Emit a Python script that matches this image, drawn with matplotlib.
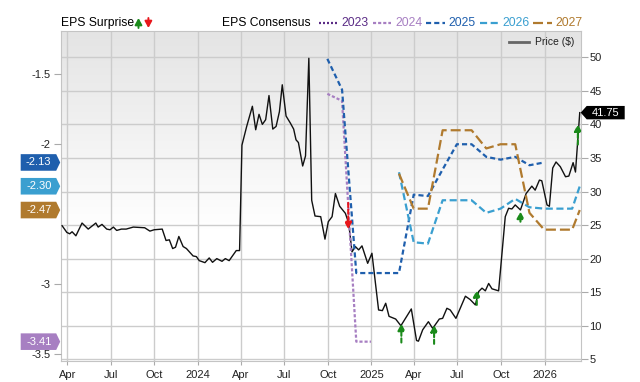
import datetime as dt

import matplotlib
matplotlib.use('Agg')
import matplotlib.dates as mdates
import matplotlib.pyplot as plt
import matplotlib.transforms as mtransforms
import numpy as np
from matplotlib.colors import LinearSegmentedColormap
from matplotlib.lines import Line2D
from matplotlib.patches import FancyArrowPatch, Polygon

plt.rcParams['font.family'] = ['Liberation Sans', 'DejaVu Sans']

# price ($), right axis
price_dates = [
    '2023-03-21', '2023-03-31', '2023-04-06', '2023-04-11', '2023-04-19', '2023-05-02', '2023-05-15', '2023-05-31',
    '2023-06-05', '2023-06-13', '2023-06-23', '2023-06-30', '2023-07-07', '2023-07-14', '2023-07-24', '2023-08-03',
    '2023-08-18', '2023-09-11', '2023-09-22', '2023-10-01', '2023-10-18', '2023-10-26', '2023-11-02', '2023-11-09',
    '2023-11-15', '2023-11-22', '2023-12-01', '2023-12-08', '2023-12-22', '2023-12-29', '2024-01-04', '2024-01-16',
    '2024-01-25', '2024-02-01', '2024-02-10', '2024-02-21', '2024-02-28', '2024-03-07', '2024-03-22', '2024-03-29',
    '2024-04-03', '2024-04-13', '2024-04-25', '2024-05-02', '2024-05-09', '2024-05-16', '2024-05-23', '2024-05-30',
    '2024-06-07', '2024-06-14', '2024-06-21', '2024-06-27', '2024-07-05', '2024-07-14', '2024-07-21', '2024-07-26',
    '2024-07-31', '2024-08-09', '2024-08-15', '2024-08-22', '2024-08-28', '2024-09-04', '2024-09-16', '2024-09-25',
    '2024-10-02', '2024-10-10', '2024-10-17', '2024-10-26', '2024-11-07', '2024-11-14', '2024-11-21', '2024-11-28',
    '2024-12-05', '2024-12-12', '2024-12-24', '2025-01-02', '2025-01-16', '2025-01-24', '2025-01-31', '2025-02-07',
    '2025-02-21', '2025-03-04', '2025-03-26', '2025-04-06', '2025-04-10', '2025-04-19', '2025-05-01', '2025-05-10',
    '2025-05-24', '2025-05-31', '2025-06-09', '2025-06-16', '2025-06-28', '2025-07-18', '2025-07-28', '2025-08-08',
    '2025-08-15', '2025-08-22', '2025-08-29', '2025-09-05', '2025-09-12', '2025-09-26', '2025-10-10', '2025-10-17',
    '2025-10-24', '2025-10-31', '2025-11-11', '2025-11-23', '2025-12-05', '2025-12-12', '2025-12-21', '2025-12-26',
    '2026-01-06', '2026-01-11', '2026-01-18', '2026-01-25', '2026-02-03', '2026-02-14', '2026-02-21', '2026-03-02',
    '2026-03-07', '2026-03-16',
]
price_values = [
    24.9, 23.9, 23.7, 24.0, 23.4, 25.3, 24.4, 25.3,
    24.7, 25.1, 24.4, 24.3, 24.7, 24.2, 24.4, 24.4,
    24.7, 24.6, 24.1, 24.3, 24.4, 22.7, 22.8, 21.5,
    21.7, 23.3, 21.8, 21.5, 20.4, 20.3, 19.7, 19.4,
    20.1, 19.45, 20.0, 19.6, 20.0, 19.7, 21.2, 21.2,
    36.9, 39.7, 42.7, 39.2, 41.5, 40.0, 40.7, 44.3,
    39.3, 39.7, 41.9, 45.9, 41.25, 40.2, 39.3, 37.7,
    37.3, 33.8, 35.3, 49.85, 28.7, 26.35, 26.25, 22.9,
    25.5, 26.25, 29.7, 27.8, 26.75, 25.3, 21.0, 21.8,
    21.3, 21.9, 19.3, 20.8, 12.35, 12.25, 13.35, 11.4,
    11.0, 10.0, 12.5, 7.8, 7.7, 9.4, 10.6, 9.6,
    11.0, 11.1, 12.6, 12.35, 11.1, 14.4, 13.9, 13.1,
    15.1, 15.6, 15.2, 16.3, 15.5, 15.2, 26.25, 27.5,
    27.4, 28.0, 27.25, 29.7, 30.8, 30.2, 31.7, 31.6,
    28.0, 27.8, 33.5, 34.4, 33.7, 32.2, 32.3, 34.3,
    32.9, 41.75,
]

# EPS consensus, left axis
cons_2024_dates = ['2024-09-30', '2024-10-31', '2024-11-30', '2024-12-31']
cons_2024 = [-1.64, -1.69, -3.41, -3.41]
cons_2025_dates = ['2024-09-30', '2024-10-31', '2024-11-30', '2024-12-31', '2025-01-31', '2025-02-28',
                   '2025-03-31', '2025-04-30', '2025-05-31', '2025-06-30', '2025-07-31', '2025-08-31',
                   '2025-09-30', '2025-10-31', '2025-11-30', '2025-12-31']
cons_2025 = [-1.39, -1.61, -2.92, -2.92, -2.92, -2.92, -2.36, -2.37, -2.18, -2.0, -2.0, -2.09,
             -2.11, -2.09, -2.15, -2.13]
cons_later_dates = ['2025-02-28', '2025-03-31', '2025-04-30', '2025-05-31', '2025-06-30', '2025-07-31',
                    '2025-08-31', '2025-09-30', '2025-10-31', '2025-11-30', '2025-12-31', '2026-01-31',
                    '2026-02-28', '2026-03-16']
cons_2026 = [-2.20, -2.70, -2.71, -2.40, -2.40, -2.40, -2.49, -2.46, -2.39, -2.45, -2.46, -2.46, -2.46, -2.30]
cons_2027 = [-2.21, -2.46, -2.46, -1.90, -1.90, -1.90, -2.03, -2.00, -2.00, -2.49, -2.61, -2.61, -2.61, -2.47]

years = ['2023', '2024', '2025', '2026', '2027']
year_colors = ['#5b2c86', '#a77fc2', '#1f5fad', '#3a9fd0', '#b07a2e']
year_dashes = [(0, (0.9, 0.9)), (0, (1.4, 0.9)), (0, (2.3, 1.4)), (0, (3.2, 1.6)), (0, (4.5, 1.8))]

# EPS surprise arrows: date, price at the head, price at the tail, beat?
surprise_dates = ['2024-11-13', '2025-03-05', '2025-05-13', '2025-08-11', '2025-11-11', '2026-03-12']
surprise_head = [24.4, 10.3, 10.1, 15.3, 27.0, 40.0]
surprise_tail = [28.3, 7.5, 7.3, 13.1, 25.5, 37.0]
surprise_beat = [False, True, True, True, True, True]

eps_ticks = [-1.5, -2, -3, -3.5]
eps_tick_labels = ['-1.5', '-2', '-3', '-3.5']
price_ticks = [5, 10, 15, 20, 25, 30, 35, 40, 45, 50]

W, H = 640, 382
GREEN, RED = '#1a8a1a', '#e8161b'


def to_dates(values):
    return [dt.datetime.strptime(v, '%Y-%m-%d') for v in values]


def quarter_label(x, pos=None):
    d = mdates.num2date(x)
    return str(d.year) if d.month == 1 else d.strftime('%b')


def main():
    fig = plt.figure(figsize=(W / 100, H / 100), dpi=100)
    left, right, top, bottom = 60.7, 580.7, 30.7, 360.7
    ax = fig.add_axes([left / W, 1 - bottom / H, (right - left) / W, (bottom - top) / H])
    ax2 = ax.twinx()

    # background gradient
    cmap = LinearSegmentedColormap.from_list('bg', [(0, '#e4e4e4'), (0.6, '#ffffff'), (1, '#ffffff')])
    ax.imshow(np.linspace(0, 1, 256).reshape(-1, 1), extent=[0, 1, 0, 1], transform=ax.transAxes,
              cmap=cmap, aspect='auto', zorder=-1, interpolation='bilinear')

    ax.plot(to_dates(price_dates), price_values, color='#111111', lw=1.0, zorder=3)

    ax2.plot(to_dates(cons_2024_dates), cons_2024, color=year_colors[1], ls=year_dashes[1], lw=1.6)
    ax2.plot(to_dates(cons_2025_dates), cons_2025, color=year_colors[2], ls=year_dashes[2], lw=1.6)
    ax2.plot(to_dates(cons_later_dates), cons_2026, color=year_colors[3], ls=year_dashes[3], lw=1.6)
    ax2.plot(to_dates(cons_later_dates), cons_2027, color=year_colors[4], ls=year_dashes[4], lw=1.6)

    for d, head, tail, beat in zip(mdates.date2num(to_dates(surprise_dates)), surprise_head, surprise_tail,
                                   surprise_beat):
        ax2.annotate('', xy=(d, head), xytext=(d, tail), xycoords=ax.transData, textcoords=ax.transData,
                     arrowprops=dict(arrowstyle='-|>,head_length=0.55,head_width=0.3',
                                     color=GREEN if beat else RED, lw=1.5,
                                     linestyle=(0, (2, 1.2)), shrinkA=0, shrinkB=0, mutation_scale=7),
                     zorder=6)

    ax.set_xlim(dt.datetime(2023, 3, 18), dt.datetime(2026, 3, 18))
    ax.set_ylim(4.79, 53.96)
    ax2.set_ylim(-3.546, -1.189)

    ax.xaxis.set_major_locator(mdates.MonthLocator(bymonth=[1, 4, 7, 10]))
    ax.xaxis.set_major_formatter(plt.FuncFormatter(quarter_label))
    ax.set_yticks(price_ticks)
    ax2.set_yticks(eps_ticks)
    ax2.set_yticklabels(eps_tick_labels)

    ax.yaxis.tick_right()
    ax2.yaxis.tick_left()
    ax.tick_params(axis='y', length=4.8, pad=1.5, color='#aaaaaa', labelsize=8, labelcolor='#222222')
    ax.tick_params(axis='x', length=3, pad=4, color='#aaaaaa', labelsize=8, labelcolor='#222222')
    ax2.tick_params(axis='y', length=4.8, pad=2.4, color='#aaaaaa', labelsize=8, labelcolor='#222222')

    ax.set_axisbelow(True)
    ax.grid(True, color='#cccccc', lw=1.0)
    for s in ax.spines.values():
        s.set_color('#c4c4c4')
    for s in ax2.spines.values():
        s.set_visible(False)

    # left value tags
    tags = [(cons_2025[-1], year_colors[2]), (cons_2026[-1], year_colors[3]),
            (cons_2027[-1], year_colors[4]), (cons_2024[-1], year_colors[1])]
    for val, c in tags:
        tr = mtransforms.Affine2D() + mtransforms.ScaledTranslation(0, val, ax2.get_yaxis_transform())
        fig.add_artist(Polygon([(-40, -8.3), (-4.5, -8.3), (-0.5, 0), (-4.5, 8.3), (-40, 8.3)],
                               closed=True, transform=tr, facecolor=c, edgecolor='none', zorder=5))
        fig.text(-22, 0, f'{val:.2f}', transform=tr, ha='center', va='center', color='white',
                 fontsize=8, zorder=6)

    # right price tag
    last = price_values[-1]
    tr = mtransforms.Affine2D() + mtransforms.ScaledTranslation(1, last, ax.get_yaxis_transform())
    fig.add_artist(Polygon([(0, 0), (6, 6.7), (44, 6.7), (44, -6.7), (6, -6.7)], closed=True,
                           transform=tr, facecolor='black', edgecolor='none', zorder=5))
    fig.text(25, 0, f'{last:.2f}', transform=tr, ha='center', va='center', color='white', fontsize=8, zorder=6)

    # top legend
    ly = 1 - 23.3 / H
    fig.text(left / W, ly, 'EPS Surprise', ha='left', va='center', fontsize=8.7)
    for xp, c, up in [(138.5, GREEN, True), (148.4, RED, False)]:
        a, b = (H - 28, H - 18) if up else (H - 18, H - 28)
        fig.add_artist(FancyArrowPatch(
            (xp, a), (xp, b), transform=None, arrowstyle='-|>,head_length=0.55,head_width=0.3',
            color=c, lw=1.4, mutation_scale=7, shrinkA=0, shrinkB=0))
    fig.text(222.5 / W, ly, 'EPS Consensus', ha='left', va='center', fontsize=8.7)
    xs = 319.3
    for name, c, ls in zip(years, year_colors, year_dashes):
        fig.add_artist(Line2D([xs / W, (xs + 18.5) / W], [ly, ly], color=c, ls=ls, lw=1.6))
        fig.text((xs + 22.5) / W, ly, name, ha='left', va='center', fontsize=8.7, color=c)
        xs += 53.5

    # price legend
    py = 1 - 42 / H
    fig.add_artist(Line2D([509 / W, 529 / W], [py, py], color='#666666', lw=2))
    fig.text(535 / W, py, 'Price ($)', ha='left', va='center', fontsize=7.5, color='#222222')

    fig.savefig('out.png', dpi=100)


if __name__ == '__main__':
    main()
